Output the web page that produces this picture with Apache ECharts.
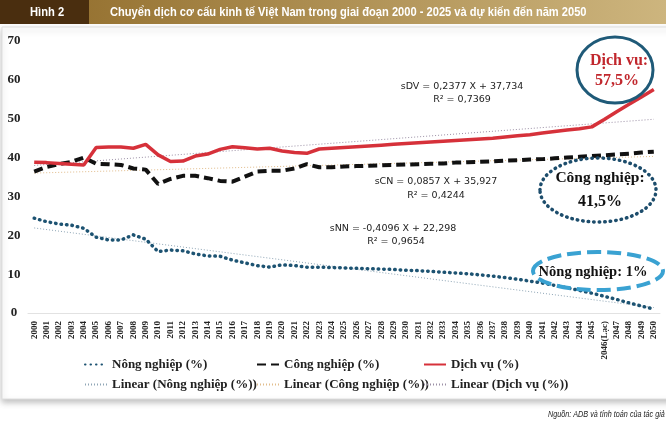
<!DOCTYPE html>
<html>
<head>
<meta charset="utf-8">
<script src="https://cdn.jsdelivr.net/npm/echarts@6/dist/echarts.min.js"></script>
<style>
  html, body { margin: 0; padding: 0; background: #fff; }
  #chart { width: 666px; height: 423px; }
</style>
</head>
<body>
<div id="chart"></div>
<script>
// năm (trục hoành)
const years = ['2000', '2001', '2002', '2003', '2004', '2005', '2006', '2007', '2008', '2009',
  '2010', '2011', '2012', '2013', '2014', '2015', '2016', '2017', '2018', '2019',
  '2020', '2021', '2022', '2023', '2024', '2025', '2026', '2027', '2028', '2029',
  '2030', '2031', '2032', '2033', '2034', '2035', '2036', '2037', '2038', '2039',
  '2040', '2041', '2042', '2043', '2044', '2045', '2046(Lạc)', '2047', '2048', '2049', '2050'];

// tỷ trọng (%)
const nongNghiep = [24.4, 23.5, 22.9, 22.6, 21.8, 19.5, 18.8, 18.8, 20.1, 19.0,
  15.8, 16.2, 16.0, 15.2, 14.7, 14.6, 13.6, 12.9, 12.2, 11.8,
  12.4, 12.2, 11.8, 11.8, 11.7, 11.6, 11.5, 11.4, 11.3, 11.2,
  11.0, 10.9, 10.7, 10.5, 10.3, 10.1, 9.8, 9.5, 9.1, 8.7,
  8.2, 7.7, 7.1, 6.5, 5.8, 5.1, 4.3, 3.5, 2.6, 1.8, 1.0];
const congNghiep = [36.4, 37.6, 38.3, 38.9, 40.0, 38.4, 38.3, 38.1, 37.2, 36.9,
  33.2, 34.5, 35.3, 35.3, 34.7, 34.0, 33.8, 35.1, 36.4, 36.6,
  36.6, 37.2, 38.3, 37.5, 37.5, 37.7, 37.8, 37.9, 38.0, 38.1,
  38.2, 38.3, 38.4, 38.5, 38.7, 38.8, 38.9, 39.0, 39.2, 39.3,
  39.5, 39.6, 39.8, 40.0, 40.2, 40.4, 40.6, 40.8, 41.0, 41.3, 41.5];
const dichVu = [38.8, 38.7, 38.5, 38.3, 38.1, 42.6, 42.7, 42.7, 42.4, 43.4,
  40.7, 39.0, 39.1, 40.4, 40.9, 42.1, 42.8, 42.5, 42.2, 42.4,
  41.7, 41.3, 41.1, 42.2, 42.4, 42.6, 42.8, 43.0, 43.2, 43.4,
  43.6, 43.8, 44.0, 44.2, 44.4, 44.6, 44.8, 45.0, 45.3, 45.6,
  45.9, 46.3, 46.7, 47.1, 47.4, 47.9, 49.8, 51.8, 53.7, 55.6, 57.5];

// hệ số đường xu hướng (theo phương trình in trên hình), X = 1..51
const trendNames = ['Linear (Nông nghiệp (%))', 'Linear (Công nghiệp (%))', 'Linear (Dịch vụ (%))'];
const trendSlope = [-0.4096, 0.0857, 0.2377];
const trendIntercept = [22.298, 35.927, 37.734];
const trendColors = ['#8fa6b6', '#e2bd8c', '#9c90a6'];

const yTicks = [0, 70, 10]; // min, max, interval

const dom = document.getElementById('chart');
const myChart = echarts.init(dom);

const serif = "'Liberation Serif', 'DejaVu Serif', serif";
const eqFont = "'DejaVu Sans', sans-serif";
const narrow = "'Liberation Sans Narrow', 'Liberation Sans', sans-serif";

// đường xu hướng: chỉ 2 điểm đầu/cuối
let trendSeries = trendNames.map((name, i) => {
  const n = years.length;
  return {
    name: name,
    type: 'line',
    symbol: 'none',
    z: 1,
    silent: true,
    data: [[0, trendIntercept[i] + trendSlope[i] * 1], [n - 1, trendIntercept[i] + trendSlope[i] * n]],
    lineStyle: { color: trendColors[i], width: 1, type: [1, 2] },
    itemStyle: { color: trendColors[i] }
  };
});

let legendCommon = {
  orient: 'vertical',
  top: 353,
  itemWidth: 22,
  itemHeight: 14,
  itemGap: 7,
  itemStyle: { color: 'rgba(0,0,0,0)', borderColor: 'rgba(0,0,0,0)', borderWidth: 0, opacity: 0 },
  textStyle: { fontFamily: serif, fontWeight: 'bold', fontSize: 13, color: '#222' }
};

function label(text, x, y, font, fill, align) {
  return {
    type: 'text', z: 13, x: x, y: y, silent: true,
    style: { text: text, fill: fill, font: font, align: align || 'center', verticalAlign: 'middle' }
  };
}

const option = {
  backgroundColor: '#fff',
  animation: false,
  grid: { left: 28, right: 6, top: 41, bottom: 110 },
  legend: [
    Object.assign({ left: 79, data: ['Nông nghiệp (%)', trendNames[0]] }, legendCommon),
    Object.assign({ left: 251, data: ['Công nghiệp (%)', trendNames[1]] }, legendCommon),
    Object.assign({ left: 418, data: ['Dịch vụ (%)', trendNames[2]] }, legendCommon)
  ],
  xAxis: {
    type: 'category',
    data: years,
    boundaryGap: true,
    axisLine: { lineStyle: { color: '#e2e2e2' } },
    axisTick: { show: false },
    axisLabel: {
      interval: 0,
      rotate: 90,
      margin: 8,
      fontFamily: serif,
      fontWeight: 'bold',
      fontSize: 9,
      color: '#222'
    }
  },
  yAxis: {
    type: 'value',
    min: yTicks[0],
    max: yTicks[1],
    interval: yTicks[2],
    splitLine: { show: false },
    axisLine: { show: false },
    axisTick: { show: false },
    axisLabel: {
      align: 'center',
      margin: 14,
      fontFamily: serif,
      fontWeight: 'bold',
      fontSize: 13,
      color: '#222'
    }
  },
  series: trendSeries.concat([
    {
      name: 'Nông nghiệp (%)',
      type: 'line',
      symbol: 'none',
      z: 3,
      data: nongNghiep,
      lineStyle: { color: '#1d5372', width: 3.5, type: [0.5, 5], cap: 'round' },
      itemStyle: { color: '#1d5372' }
    },
    {
      name: 'Công nghiệp (%)',
      type: 'line',
      symbol: 'none',
      z: 3,
      data: congNghiep,
      lineStyle: { color: '#111', width: 4, type: [9, 5] },
      itemStyle: { color: '#111' }
    },
    {
      name: 'Dịch vụ (%)',
      type: 'line',
      symbol: 'none',
      z: 4,
      data: dichVu,
      lineStyle: { color: '#d6313a', width: 3.5 },
      itemStyle: { color: '#d6313a' }
    }
  ]),
  graphic: [
    // khung + bóng
    {
      type: 'rect', z: -10, silent: true,
      shape: { x: 2, y: 27, width: 700, height: 372 },
      style: { fill: '#fff', stroke: '#dedede', lineWidth: 1, shadowBlur: 6, shadowColor: 'rgba(0,0,0,0.25)', shadowOffsetY: 3 }
    },
    // thanh tiêu đề
    {
      type: 'rect', z: 10, silent: true,
      shape: { x: 0, y: 0, width: 666, height: 24 },
      style: {
        fill: new echarts.graphic.LinearGradient(0, 0, 1, 0, [
          { offset: 0, color: '#8f6a28' },
          { offset: 1, color: '#cdb57e' }
        ])
      }
    },
    {
      type: 'rect', z: 11, silent: true,
      shape: { x: 0, y: 0, width: 89, height: 24 },
      style: { fill: '#4a2e0f' }
    },
    {
      type: 'text', z: 12, x: 30, y: 12, scaleX: 0.86, silent: true,
      style: { text: 'Hình 2', fill: '#fff', font: 'bold 13px ' + narrow, verticalAlign: 'middle' }
    },
    {
      type: 'text', z: 12, x: 110, y: 12, scaleX: 0.855, silent: true,
      style: { text: 'Chuyển dịch cơ cấu kinh tế Việt Nam trong giai đoạn 2000 - 2025 và dự kiến đến năm 2050', fill: '#fff', font: 'bold 13px ' + narrow, verticalAlign: 'middle' }
    },
    // phương trình
    label('sDV = 0,2377 X + 37,734', 462, 87, '9.5px ' + eqFont, '#222'),
    label('R² = 0,7369', 462, 100, '9.5px ' + eqFont, '#222'),
    label('sCN = 0,0857 X + 35,927', 436, 182, '9.5px ' + eqFont, '#222'),
    label('R² = 0,4244', 436, 196, '9.5px ' + eqFont, '#222'),
    label('sNN = -0,4096 X + 22,298', 393, 229, '9.5px ' + eqFont, '#222'),
    label('R² = 0,9654', 396, 242, '9.5px ' + eqFont, '#222'),
    // chú thích Dịch vụ
    {
      type: 'ellipse', z: 12, silent: true,
      shape: { cx: 615, cy: 70, rx: 38, ry: 33 },
      style: { fill: 'rgba(255,255,255,0)', stroke: '#1f5a78', lineWidth: 3 }
    },
    label('Dịch vụ:', 619, 61, 'bold 16px ' + serif, '#c1272d'),
    label('57,5%', 617, 81, 'bold 16px ' + serif, '#c1272d'),
    // chú thích Công nghiệp
    {
      type: 'ellipse', z: 12, silent: true,
      shape: { cx: 598, cy: 190, rx: 58, ry: 32 },
      style: { fill: 'rgba(255,255,255,0)', stroke: '#1d4d6c', lineWidth: 3.5, lineDash: [0.5, 5], lineCap: 'round' }
    },
    label('Công nghiệp:', 600, 178, 'bold 15.5px ' + serif, '#111'),
    label('41,5%', 600, 202, 'bold 16px ' + serif, '#111'),
    // chú thích Nông nghiệp
    {
      type: 'ellipse', z: 12, silent: true,
      shape: { cx: 598, cy: 271, rx: 65, ry: 19 },
      style: { fill: 'rgba(255,255,255,0)', stroke: '#3aa2d2', lineWidth: 4, lineDash: [14, 6] }
    },
    label('Nông nghiệp: 1%', 593, 272, 'bold 14.5px ' + serif, '#111'),
    // nguồn
    {
      type: 'text', z: 12, x: 548, y: 414, scaleX: 0.76, silent: true,
      style: { text: 'Nguồn: ADB và tính toán của tác giả', fill: '#222', font: 'italic 9.5px ' + narrow, verticalAlign: 'middle' }
    }
  ]
};

myChart.setOption(option);

window.addEventListener('resize', function () {
  myChart.resize();
});
</script>
</body>
</html>
